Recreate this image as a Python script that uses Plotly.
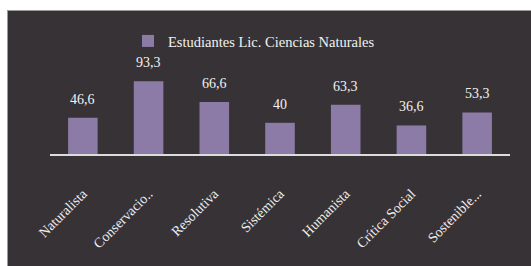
import plotly.graph_objects as go

categories = ["Naturalista", "Conservacio..", "Resolutiva", "Sistémica", "Humanista", "Crítica Social", "Sostenible..."]
values = [46.6, 93.3, 66.6, 40, 63.3, 36.6, 53.3]
series_name = "Estudiantes Lic. Ciencias Naturales"

labels = [f"{v:g}".replace(".", ",") for v in values]

SERIF = "Liberation Serif"
OFF = 0                  # body margin removed in post_script
W, H = 531, 266
ml, mr, mt, mb = 50, 21, 76, 112
pw = W - ml - mr
ph = H - mt - mb
BG = "#373236"

def px_x(p):
    return (p - OFF - ml) / pw

def px_y(p):
    return (H - mb - (p - OFF)) / ph

fig = go.Figure()
fig.add_trace(go.Bar(
    x=categories, y=values, name=series_name,
    marker=dict(color="#8c7ba6", line=dict(width=0)),
    width=0.45,
    showlegend=True,
))

for c, v, t in zip(categories, values, labels):
    fig.add_annotation(x=c, y=v, text=t, showarrow=False, yanchor="bottom", yshift=9,
                       font=dict(family=SERIF, size=14, color="#f2f2f2"))

# white margin at top/left and gray border
fig.add_shape(type="rect", xref="paper", yref="paper",
              x0=px_x(-2), x1=px_x(540), y0=px_y(10), y1=px_y(-2),
              fillcolor="white", line=dict(width=0), layer="above")
fig.add_shape(type="rect", xref="paper", yref="paper",
              x0=px_x(-2), x1=px_x(7), y0=px_y(270), y1=px_y(-2),
              fillcolor="white", line=dict(width=0), layer="above")
fig.add_shape(type="line", xref="paper", yref="paper",
              x0=px_x(7), x1=px_x(540), y0=px_y(10.5), y1=px_y(10.5),
              line=dict(color="#9a9a9a", width=1), layer="above")
fig.add_shape(type="line", xref="paper", yref="paper",
              x0=px_x(7.5), x1=px_x(7.5), y0=px_y(10), y1=px_y(270),
              line=dict(color="#9a9a9a", width=1), layer="above")

fig.update_layout(
    width=W, height=H,
    margin=dict(l=ml, r=mr, t=mt, b=mb),
    paper_bgcolor=BG, plot_bgcolor="rgba(0,0,0,0)",
    font=dict(family=SERIF, color="#f2f2f2"),
    legend=dict(orientation="h", x=px_x(254), xanchor="center", y=px_y(41), yanchor="middle",
                font=dict(family=SERIF, size=14.5, color="#f2f2f2"), bgcolor="rgba(0,0,0,0)"),
    xaxis=dict(showline=True, linecolor="#dcdcdc", linewidth=2, tickangle=-45,
               tickfont=dict(size=14, color="#eeeeee", family=SERIF),
               showgrid=False, ticks="", ticklabelstandoff=24),
    yaxis=dict(range=[0, 100], visible=False, showgrid=False),
)

fig.write_html("out.html", config={"displayModeBar": False}, post_script=(
    "document.documentElement.style.overflow='hidden';"
    "document.documentElement.style.background='" + BG + "';"
    "document.body.style.margin='0';document.body.style.overflow='hidden';"
    "document.body.style.background='" + BG + "';"))
